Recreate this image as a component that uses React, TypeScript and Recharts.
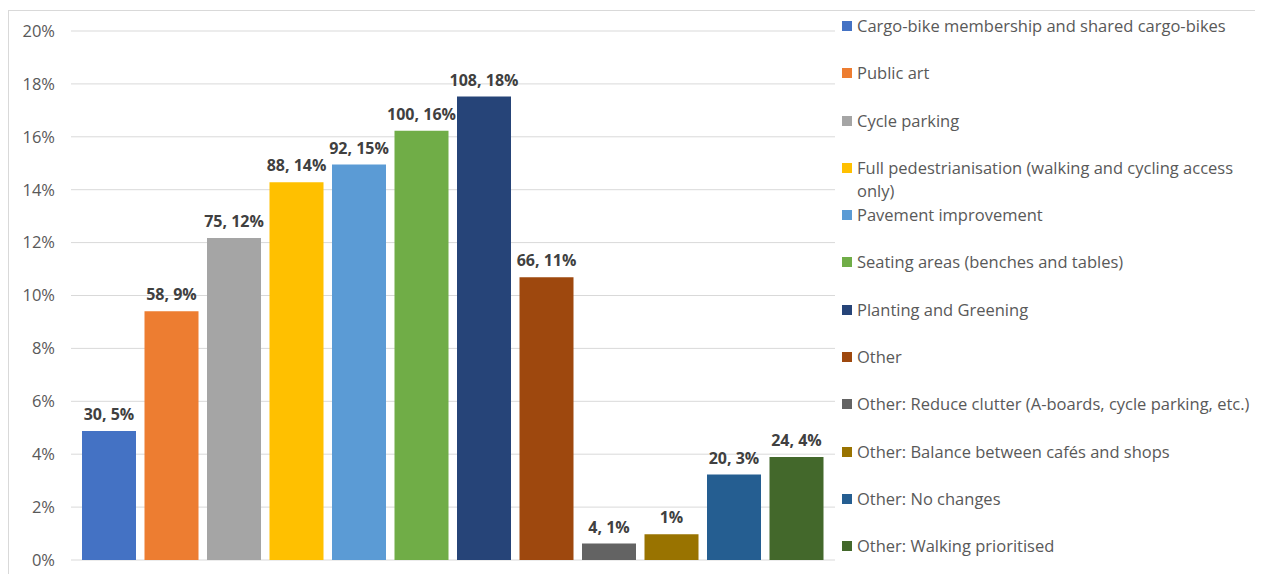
import { BarChart, Bar, YAxis, XAxis, CartesianGrid, Legend, LabelList } from 'recharts';

const seriesNames = [
    "Cargo-bike membership and shared cargo-bikes",
    "Public art",
    "Cycle parking",
    "Full pedestrianisation (walking and cycling access only)",
    "Pavement improvement",
    "Seating areas (benches and tables)",
    "Planting and Greening",
    "Other",
    "Other: Reduce clutter (A-boards, cycle parking, etc.)",
    "Other: Balance between cafés and shops",
    "Other: No changes",
    "Other: Walking prioritised",
];

// share of responses, in percent
const shares = [4.88, 9.40, 12.17, 14.28, 14.95, 16.23, 17.52, 10.69, 0.62, 0.97, 3.23, 3.89];

// labels shown above each bar
const barLabels = ["30, 5%", "58, 9%", "75, 12%", "88, 14%", "92, 15%", "100, 16%", "108, 18%", "66, 11%", "4, 1%", "1%", "20, 3%", "24, 4%"];

const colors = ["#4472C4", "#ED7D31", "#A5A5A5", "#FFC000", "#5B9BD5", "#70AD47", "#264478", "#9E480E", "#636363", "#997300", "#255E91", "#43682B"];

const yTicks = [0, 2, 4, 6, 8, 10, 12, 14, 16, 18, 20];

const row: Record<string, string | number> = { name: "all" };
shares.forEach((v, i) => { row["s" + i] = v; });
const data = [row];

const FONT = "'Open Sans', 'Noto Sans', sans-serif";

const LegendBox = () => (
    <div style={{ fontFamily: FONT, fontSize: 16.5, color: "#595959" }}>
        {seriesNames.map((n, i) => (
            <div key={n} style={{ height: 47.3, display: "flex", alignItems: "flex-start" }}>
                <span style={{ width: 10, height: 10, background: colors[i], marginTop: 7, marginRight: 5, flexShrink: 0 }} />
                <span style={{ lineHeight: "23px", maxWidth: 402 }}>{n}</span>
            </div>
        ))}
    </div>
);

const makeLabel = (text: string) => (props: any) => {
    const { x, y, width } = props;
    return (
        <text
            x={Number(x) + Number(width) / 2}
            y={Number(y) - 11}
            textAnchor="middle"
            fill="#404040"
            fontSize={16}
            fontWeight={700}
            fontFamily={FONT}
        >
            {text}
        </text>
    );
};

export default function App() {
    return (
        <div style={{ width: 1255, height: 566, border: "1px solid #d9d9d9", boxSizing: "border-box", marginTop: 2, position: "relative" }}>
            <BarChart
                width={1253}
                height={564}
                data={data}
                margin={{ top: 20, right: 7, left: 0, bottom: 15 }}
                barSize={54}
                barGap={8.5}
            >
                <CartesianGrid vertical={false} stroke="#d9d9d9" />
                <XAxis dataKey="name" hide />
                <YAxis
                    domain={[0, 20]}
                    ticks={yTicks}
                    width={62}
                    axisLine={false}
                    tickLine={false}
                    tickSize={0}
                    tickMargin={16}
                    tickFormatter={(v: number) => v + "%"}
                    tick={{ fill: "#595959", fontSize: 16.5, fontFamily: FONT }}
                />
                <Legend
                    layout="vertical"
                    verticalAlign="top"
                    align="right"
                    content={() => <LegendBox />}
                    wrapperStyle={{ left: 833, top: 3, width: 420 }}
                />
                {shares.map((_, i) => (
                    <Bar key={i} dataKey={"s" + i} name={seriesNames[i]} fill={colors[i]} isAnimationActive={false}>
                        <LabelList dataKey={"s" + i} content={makeLabel(barLabels[i])} />
                    </Bar>
                ))}
            </BarChart>
        </div>
    );
}
